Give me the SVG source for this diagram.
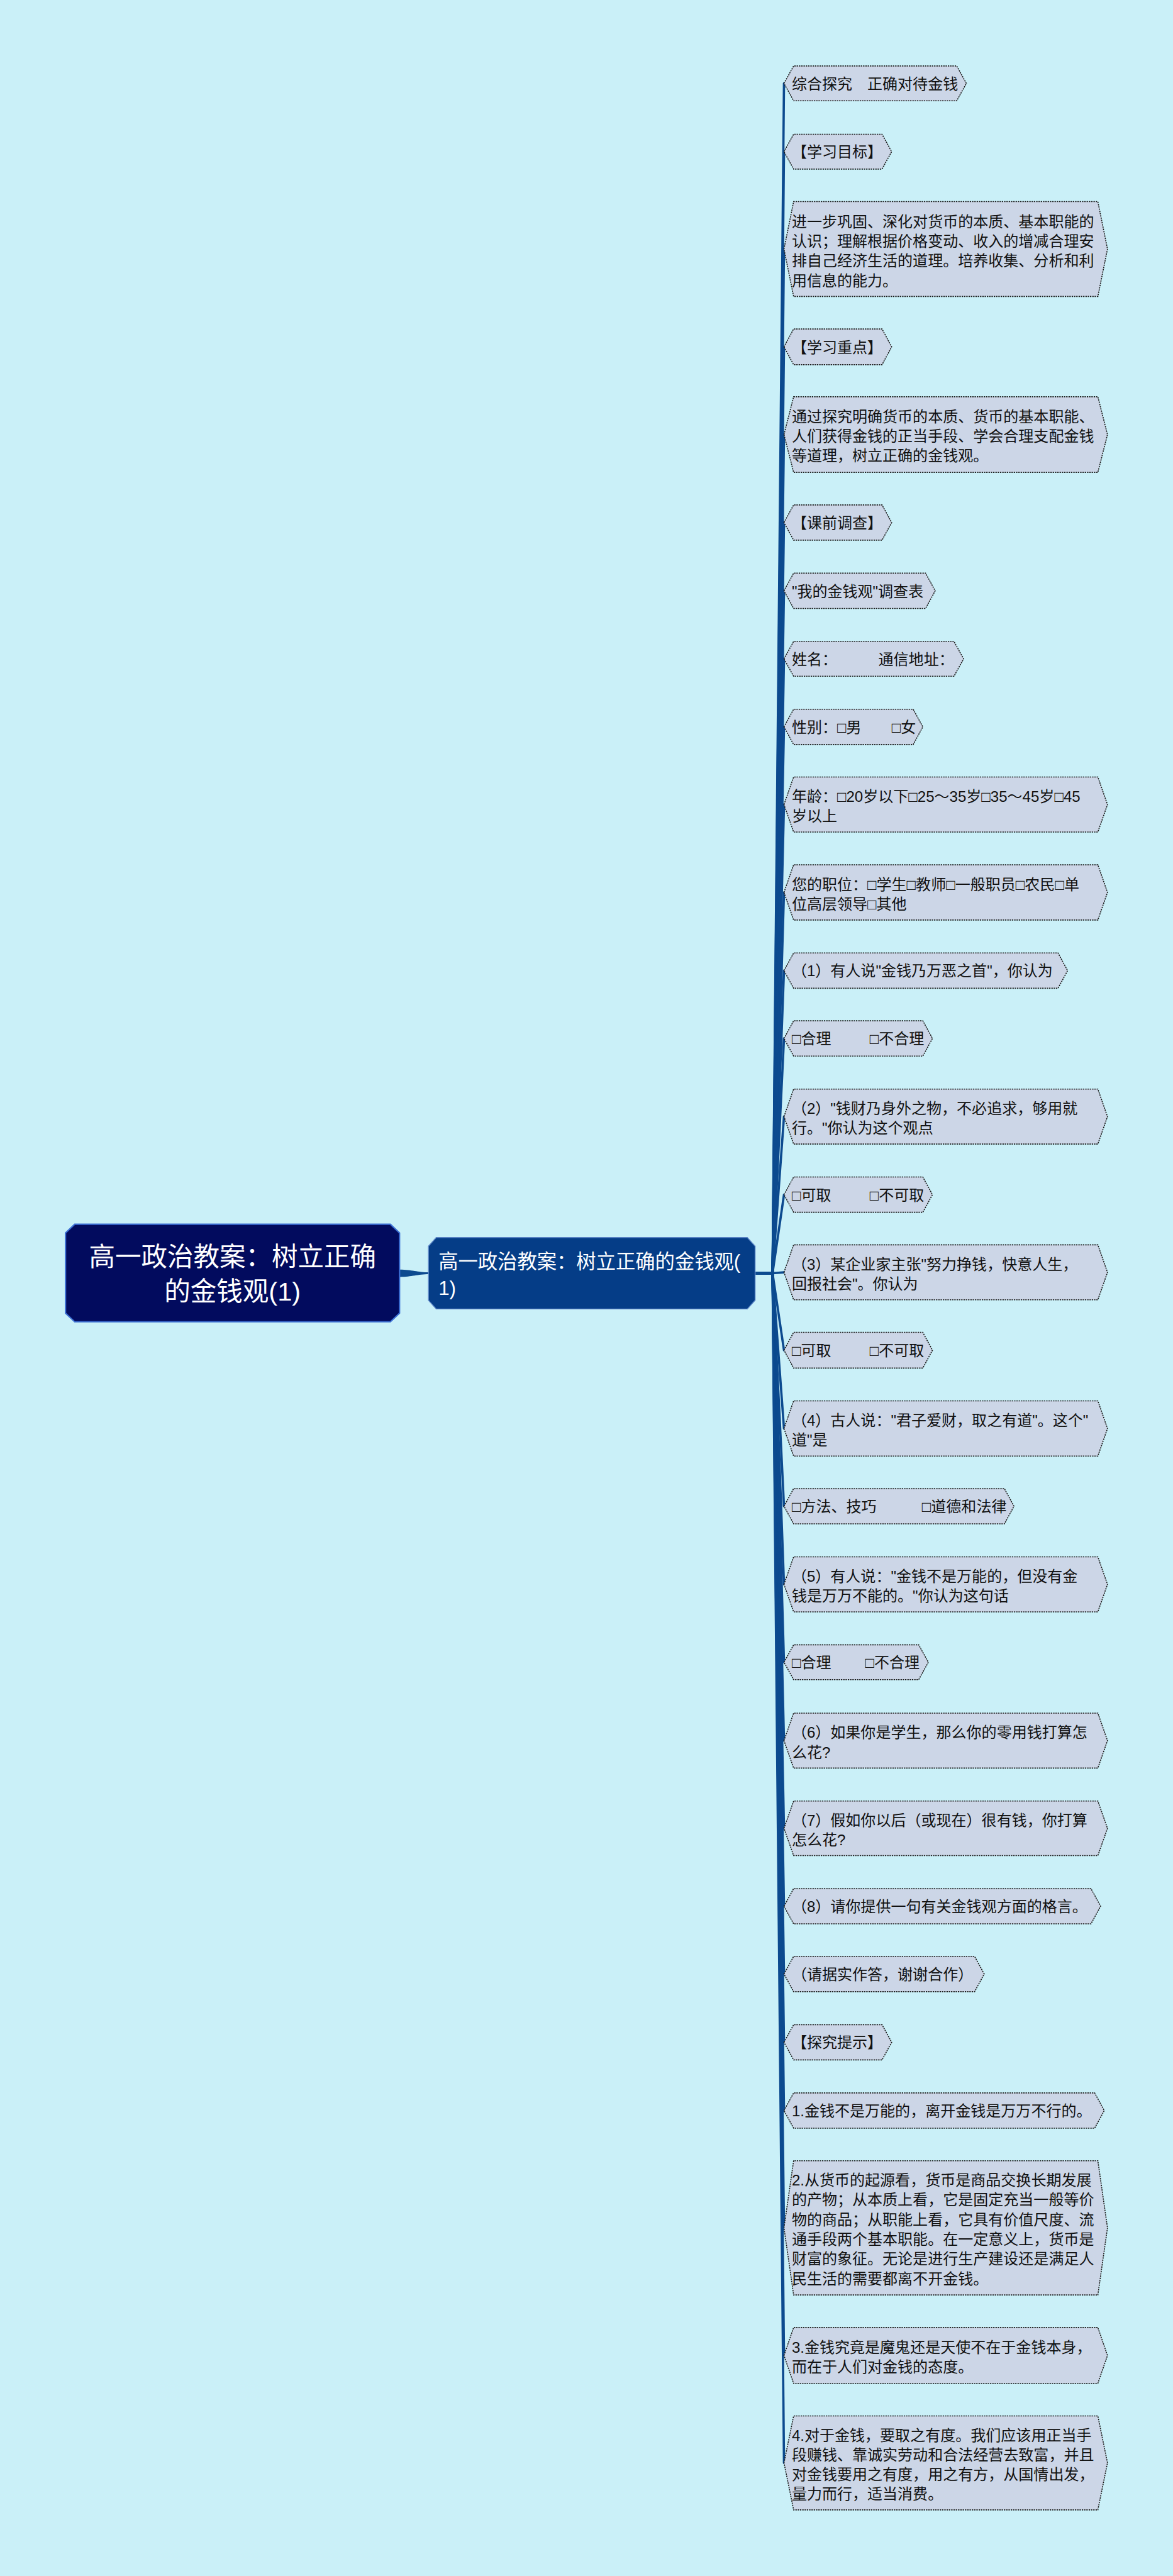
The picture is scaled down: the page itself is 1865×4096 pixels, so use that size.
<svg xmlns="http://www.w3.org/2000/svg" width="1865" height="4096" viewBox="0 0 1865 4096">
<style>
.n polygon{fill:#CCD6E7;stroke:#1A1A1A;stroke-width:2.2;stroke-dasharray:3 2}
.n text{font-family:"Liberation Sans","Noto Sans CJK SC",sans-serif;font-size:33px;fill:#111}
.e path{fill:none;stroke:#0C4A8F;stroke-width:5;stroke-linejoin:round;stroke-linecap:round}
.w{font-family:"Liberation Sans","Noto Sans CJK SC",sans-serif;fill:#FFFFFF}
</style>
<rect width="1865" height="4096" fill="#CAF0F8"/>
<g transform="scale(0.72852)">
<g id="connectors" class="e">
<path d="M872,2771 C900,2771 910,2777 937,2777 L937,2781 C910,2781 900,2787 872,2787 Z" style="fill:#0C4A8F;stroke:none"/>
<path d="M1648,2779 L1686,2779 L1711,182"/>
<path d="M1648,2779 L1686,2779 L1711,331"/>
<path d="M1648,2779 L1686,2779 L1711,543.5"/>
<path d="M1648,2779 L1686,2779 L1711,757"/>
<path d="M1648,2779 L1686,2779 L1711,948.5"/>
<path d="M1648,2779 L1686,2779 L1711,1140.5"/>
<path d="M1648,2779 L1686,2779 L1711,1289.5"/>
<path d="M1648,2779 L1686,2779 L1711,1438"/>
<path d="M1648,2779 L1686,2779 L1711,1586.5"/>
<path d="M1648,2779 L1686,2779 L1711,1756"/>
<path d="M1648,2779 L1686,2779 L1711,1947.75"/>
<path d="M1648,2779 L1686,2779 L1711,2118.5"/>
<path d="M1648,2779 L1686,2779 L1711,2266.5"/>
<path d="M1648,2779 L1686,2779 L1711,2437"/>
<path d="M1648,2779 L1686,2779 L1711,2607.5"/>
<path d="M1648,2779 L1686,2779 L1711,2777"/>
<path d="M1648,2779 L1686,2779 L1711,2947"/>
<path d="M1648,2779 L1686,2779 L1711,3117.75"/>
<path d="M1648,2779 L1686,2779 L1711,3287.5"/>
<path d="M1648,2779 L1686,2779 L1711,3458"/>
<path d="M1648,2779 L1686,2779 L1711,3628"/>
<path d="M1648,2779 L1686,2779 L1711,3799"/>
<path d="M1648,2779 L1686,2779 L1711,3990.5"/>
<path d="M1648,2779 L1686,2779 L1711,4160.5"/>
<path d="M1648,2779 L1686,2779 L1711,4308.5"/>
<path d="M1648,2779 L1686,2779 L1711,4457.5"/>
<path d="M1648,2779 L1686,2779 L1711,4606.5"/>
<path d="M1648,2779 L1686,2779 L1711,4862.5"/>
<path d="M1648,2779 L1686,2779 L1711,5141"/>
<path d="M1648,2779 L1686,2779 L1711,5375.5"/>
</g>
<g id="root">
<polygon points="163,2672 852,2672 872,2691 872,2866 852,2885 163,2885 143,2866 143,2691" fill="#020B5E" stroke="#3C6FD4" stroke-width="3"/>
<text class="w" font-size="57" text-anchor="middle"><tspan x="507.5" y="2763.7">高一政治教案：树立正确</tspan><tspan x="507.5" y="2838.7">的金钱观(1)</tspan></text>
</g>
<g id="main">
<polygon points="952,2701 1631,2701 1648,2720 1648,2838 1631,2857 952,2857 935,2838 935,2720" fill="#053D87" stroke="#5F88C8" stroke-width="2"/>
<text class="w" font-size="43"><tspan x="957" y="2768">高一政治教案：树立正确的金钱观(</tspan><tspan x="957" y="2826">1)</tspan></text>
</g>
<g id="n1" class="n"><polygon points="1711,182 1732,144 2088,144 2109,182 2088,220 1732,220"/><text x="1728" y="194.5">综合探究　正确对待金钱</text></g>
<g id="n2" class="n"><polygon points="1711,331 1732,293 1925,293 1946,331 1925,369 1732,369"/><text x="1728" y="343.5">【学习目标】</text></g>
<g id="n3" class="n"><polygon points="1711,543.5 1732,440 2396,440 2417,543.5 2396,647 1732,647"/><text><tspan x="1728" y="496">进一步巩固、深化对货币的本质、基本职能的</tspan><tspan x="1728" y="538.5">认识；理解根据价格变动、收入的增减合理安</tspan><tspan x="1728" y="581">排自己经济生活的道理。培养收集、分析和利</tspan><tspan x="1728" y="624">用信息的能力。</tspan></text></g>
<g id="n4" class="n"><polygon points="1711,757 1732,718 1925,718 1946,757 1925,796 1732,796"/><text x="1728" y="769.5">【学习重点】</text></g>
<g id="n5" class="n"><polygon points="1711,948.5 1732,866 2396,866 2417,948.5 2396,1031 1732,1031"/><text><tspan x="1728" y="921.3">通过探究明确货币的本质、货币的基本职能、</tspan><tspan x="1728" y="964">人们获得金钱的正当手段、学会合理支配金钱</tspan><tspan x="1728" y="1006.7">等道理，树立正确的金钱观。</tspan></text></g>
<g id="n6" class="n"><polygon points="1711,1140.5 1732,1102 1925,1102 1946,1140.5 1925,1179 1732,1179"/><text x="1728" y="1153">【课前调查】</text></g>
<g id="n7" class="n"><polygon points="1711,1289.5 1732,1251 2020,1251 2041,1289.5 2020,1328 1732,1328"/><text x="1728" y="1302">"我的金钱观"调查表</text></g>
<g id="n8" class="n"><polygon points="1711,1438 1732,1400 2082,1400 2103,1438 2082,1476 1732,1476"/><text y="1450.5"><tspan x="1728">姓名：</tspan><tspan x="1917">通信地址：</tspan></text></g>
<g id="n9" class="n"><polygon points="1711,1586.5 1732,1548 1993,1548 2014,1586.5 1993,1625 1732,1625"/><text y="1599"><tspan x="1728">性别：□男</tspan><tspan x="1946">□女</tspan></text></g>
<g id="n10" class="n"><polygon points="1711,1756 1732,1696 2396,1696 2417,1756 2396,1816 1732,1816"/><text><tspan x="1728" y="1750.2">年龄：□20岁以下□25～35岁□35～45岁□45</tspan><tspan x="1728" y="1792.9">岁以上</tspan></text></g>
<g id="n11" class="n"><polygon points="1711,1947.75 1732,1887.5 2396,1887.5 2417,1947.75 2396,2008 1732,2008"/><text><tspan x="1728" y="1941.9">您的职位：□学生□教师□一般职员□农民□单</tspan><tspan x="1728" y="1984.6">位高层领导□其他</tspan></text></g>
<g id="n12" class="n"><polygon points="1711,2118.5 1732,2080 2309,2080 2330,2118.5 2309,2157 1732,2157"/><text x="1728" y="2131">（1）有人说"金钱乃万恶之首"，你认为</text></g>
<g id="n13" class="n"><polygon points="1711,2266.5 1732,2228 2014,2228 2035,2266.5 2014,2305 1732,2305"/><text y="2279"><tspan x="1728">□合理</tspan><tspan x="1898">□不合理</tspan></text></g>
<g id="n14" class="n"><polygon points="1711,2437 1732,2377 2396,2377 2417,2437 2396,2497 1732,2497"/><text><tspan x="1728" y="2431.2">（2）"钱财乃身外之物，不必追求，够用就</tspan><tspan x="1728" y="2473.9">行。"你认为这个观点</tspan></text></g>
<g id="n15" class="n"><polygon points="1711,2607.5 1732,2569 2014,2569 2035,2607.5 2014,2646 1732,2646"/><text y="2620"><tspan x="1728">□可取</tspan><tspan x="1898">□不可取</tspan></text></g>
<g id="n16" class="n"><polygon points="1711,2777 1732,2717 2396,2717 2417,2777 2396,2837 1732,2837"/><text><tspan x="1728" y="2771.2">（3）某企业家主张"努力挣钱，快意人生，</tspan><tspan x="1728" y="2813.9">回报社会"。你认为</tspan></text></g>
<g id="n17" class="n"><polygon points="1711,2947 1732,2908 2014,2908 2035,2947 2014,2986 1732,2986"/><text y="2959.5"><tspan x="1728">□可取</tspan><tspan x="1898">□不可取</tspan></text></g>
<g id="n18" class="n"><polygon points="1711,3117.75 1732,3057.5 2396,3057.5 2417,3117.75 2396,3178 1732,3178"/><text><tspan x="1728" y="3111.9">（4）古人说："君子爱财，取之有道"。这个"</tspan><tspan x="1728" y="3154.6">道"是</tspan></text></g>
<g id="n19" class="n"><polygon points="1711,3287.5 1732,3249 2192,3249 2213,3287.5 2192,3326 1732,3326"/><text y="3300"><tspan x="1728">□方法、技巧</tspan><tspan x="2012">□道德和法律</tspan></text></g>
<g id="n20" class="n"><polygon points="1711,3458 1732,3398 2396,3398 2417,3458 2396,3518 1732,3518"/><text><tspan x="1728" y="3452.2">（5）有人说："金钱不是万能的，但没有金</tspan><tspan x="1728" y="3494.9">钱是万万不能的。"你认为这句话</tspan></text></g>
<g id="n21" class="n"><polygon points="1711,3628 1732,3590 2005,3590 2026,3628 2005,3666 1732,3666"/><text y="3640.5"><tspan x="1728">□合理</tspan><tspan x="1888">□不合理</tspan></text></g>
<g id="n22" class="n"><polygon points="1711,3799 1732,3739 2396,3739 2417,3799 2396,3859 1732,3859"/><text><tspan x="1728" y="3793.2">（6）如果你是学生，那么你的零用钱打算怎</tspan><tspan x="1728" y="3835.9">么花?</tspan></text></g>
<g id="n23" class="n"><polygon points="1711,3990.5 1732,3931 2396,3931 2417,3990.5 2396,4050 1732,4050"/><text><tspan x="1728" y="3984.7">（7）假如你以后（或现在）很有钱，你打算</tspan><tspan x="1728" y="4027.4">怎么花?</tspan></text></g>
<g id="n24" class="n"><polygon points="1711,4160.5 1732,4122 2381,4122 2402,4160.5 2381,4199 1732,4199"/><text x="1728" y="4173">（8）请你提供一句有关金钱观方面的格言。</text></g>
<g id="n25" class="n"><polygon points="1711,4308.5 1732,4270 2127,4270 2148,4308.5 2127,4347 1732,4347"/><text x="1728" y="4321">（请据实作答，谢谢合作）</text></g>
<g id="n26" class="n"><polygon points="1711,4457.5 1732,4419 1925,4419 1946,4457.5 1925,4496 1732,4496"/><text x="1728" y="4470">【探究提示】</text></g>
<g id="n27" class="n"><polygon points="1711,4606.5 1732,4568 2389,4568 2410,4606.5 2389,4645 1732,4645"/><text x="1728" y="4619">1.金钱不是万能的，离开金钱是万万不行的。</text></g>
<g id="n28" class="n"><polygon points="1711,4862.5 1732,4716 2396,4716 2417,4862.5 2396,5009 1732,5009"/><text><tspan x="1728" y="4770">2.从货币的起源看，货币是商品交换长期发展</tspan><tspan x="1728" y="4813">的产物；从本质上看，它是固定充当一般等价</tspan><tspan x="1728" y="4856">物的商品；从职能上看，它具有价值尺度、流</tspan><tspan x="1728" y="4899">通手段两个基本职能。在一定意义上，货币是</tspan><tspan x="1728" y="4942">财富的象征。无论是进行生产建设还是满足人</tspan><tspan x="1728" y="4985">民生活的需要都离不开金钱。</tspan></text></g>
<g id="n29" class="n"><polygon points="1711,5141 1732,5080 2396,5080 2417,5141 2396,5202 1732,5202"/><text><tspan x="1728" y="5135.2">3.金钱究竟是魔鬼还是天使不在于金钱本身，</tspan><tspan x="1728" y="5177.9">而在于人们对金钱的态度。</tspan></text></g>
<g id="n30" class="n"><polygon points="1711,5375.5 1732,5273 2396,5273 2417,5375.5 2396,5478 1732,5478"/><text><tspan x="1728" y="5327">4.对于金钱，要取之有度。我们应该用正当手</tspan><tspan x="1728" y="5369.7">段赚钱、靠诚实劳动和合法经营去致富，并且</tspan><tspan x="1728" y="5412.4">对金钱要用之有度，用之有方，从国情出发，</tspan><tspan x="1728" y="5455">量力而行，适当消费。</tspan></text></g>
</g>
</svg>
